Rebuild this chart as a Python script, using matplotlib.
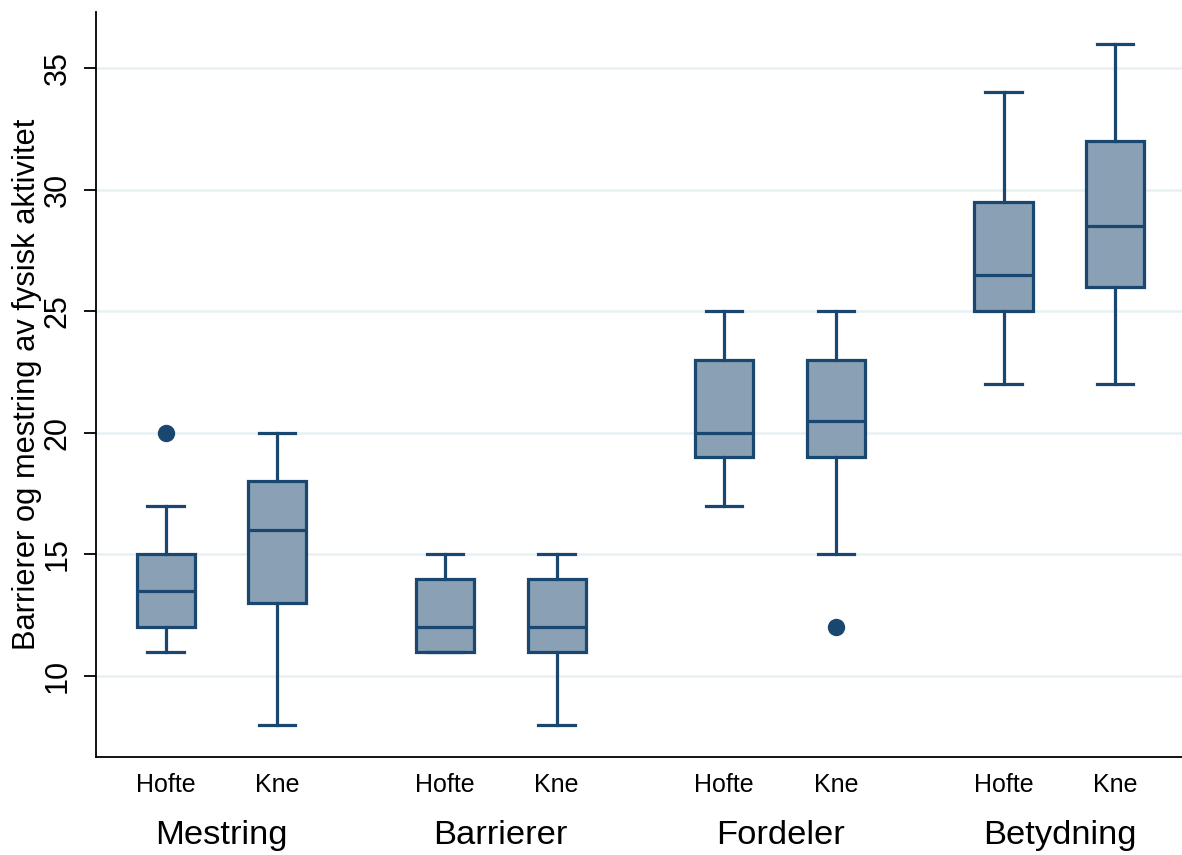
import matplotlib
matplotlib.use("Agg")
import matplotlib.pyplot as plt
from matplotlib.transforms import blended_transform_factory

plt.rcParams['font.family'] = ['Liberation Sans', 'DejaVu Sans']

groups = ["Mestring", "Barrierer", "Fordeler", "Betydning"]
subgroups = ["Hofte", "Kne"]

# per box (group-major order: Mestring Hofte, Mestring Kne, ...)
whislo = [11, 8, 11, 8, 17, 15, 22, 22]
q1     = [12, 13, 11, 11, 19, 19, 25, 26]
med    = [13.5, 16, 12, 12, 20, 20.5, 26.5, 28.5]
q3     = [15, 18, 14, 14, 23, 23, 29.5, 32]
whishi = [17, 20, 15, 15, 25, 25, 34, 36]
fliers = [[20], [], [], [], [], [12], [], []]

yticks = [10, 15, 20, 25, 30, 35]

navy = "#1a476f"
fill = "#8aa0b4"

fig = plt.figure(figsize=(11.82, 8.55), dpi=100)
ax = fig.add_axes([96/1182, 1-757/855, 1-96/1182, (757-12)/855])

stats = []
positions = []
for i in range(len(med)):
    g, s = divmod(i, 2)
    positions.append(g + (-0.2 if s == 0 else 0.2))
    stats.append(dict(whislo=whislo[i], q1=q1[i], med=med[i], q3=q3[i],
                      whishi=whishi[i], fliers=fliers[i]))

lw = 2.3
ax.bxp(stats, positions=positions, widths=0.208, capwidths=0.13,
       patch_artist=True, showfliers=True,
       boxprops=dict(facecolor=fill, edgecolor=navy, linewidth=lw),
       medianprops=dict(color=navy, linewidth=lw),
       whiskerprops=dict(color=navy, linewidth=lw),
       capprops=dict(color=navy, linewidth=lw),
       flierprops=dict(marker='o', markerfacecolor=navy, markeredgecolor=navy,
                       markersize=11.5))

ax.set_xlim(-0.449, 3.439)
ax.set_ylim(6.67, 37.3)
ax.set_yticks(yticks)
ax.set_yticklabels([str(t) for t in yticks], rotation=90, va='center', fontsize=22)
ax.tick_params(axis='y', length=9, width=1.3, pad=8, color='black')
ax.set_xticks([])
ax.grid(axis='y', color='#e8f1f2', linewidth=1.8)
ax.set_axisbelow(True)
for sp in ['top', 'right']:
    ax.spines[sp].set_visible(False)
for sp in ['left', 'bottom']:
    ax.spines[sp].set_linewidth(1.3)

ax.set_ylabel("Barrierer og mestring av fysisk aktivitet", fontsize=22.2, labelpad=0)

trans = blended_transform_factory(ax.transData, fig.transFigure)
for i, p in enumerate(positions):
    ax.text(p, 1-785/855, subgroups[i % 2], transform=trans, ha='center', va='center',
            fontsize=18)
for g, name in enumerate(groups):
    ax.text(g, 1-835/855, name, transform=trans, ha='center', va='center', fontsize=24.8)

fig.savefig("out.png", dpi=100)
